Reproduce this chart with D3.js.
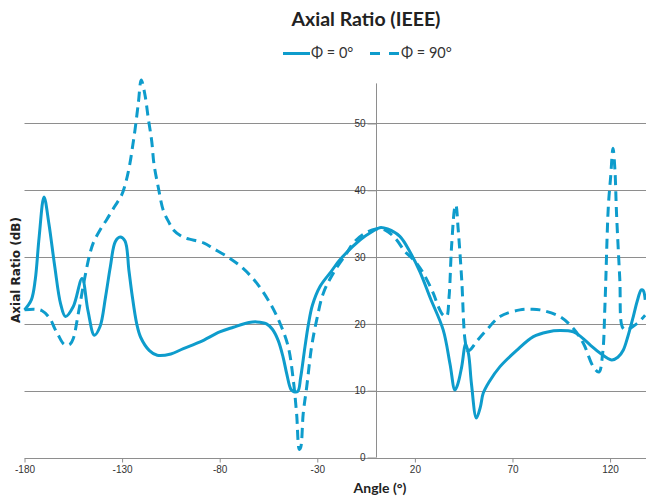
<!DOCTYPE html>
<html>
<head>
<meta charset="utf-8">
<script src="https://cdn.jsdelivr.net/npm/d3@7"></script>
<style>
  html, body { margin: 0; padding: 0; background: #fff; }
  svg { display: block; }
</style>
</head>
<body>
<svg id="chart" width="646" height="499"></svg>
<script>
// ---- data ----
const title = "Axial Ratio (IEEE)";
const xLabel = "Angle (°)";
const yLabel = "Axial Ratio (dB)";
const seriesNames = ["Φ = 0°", "Φ = 90°"];
const xTicks = [-180, -130, -80, -30, 20, 70, 120];
const yTicks = [0, 10, 20, 30, 40, 50];

const phi0Angles = [-180,-176.5,-174.5,-172.5,-170,-167.5,-164.5,-161.5,-159,-155,-150.5,-147.5,-144.2,-141.3,-138.5,-136,-133.5,-131,-128.5,-126.5,-125,-122.5,-120.5,-116,-112,-105,-98.6,-90,-80,-73,-65,-61,-56,-53,-50,-47.5,-45.7,-43.5,-42,-40,-38.5,-36.3,-34.5,-32.5,-28.6,-23,-18.4,-8,-2,2,6,12.3,18,22.6,28,34.5,38,40.5,42,44,46,47.5,49,51.5,53.5,55,58,63.6,72,80.7,88,94.3,101.2,105,110,115,120.8,124,126.8,129,131.9,134,136,137,138];
const phi0Values = [22.1,23.6,26.6,33,39.0,35,28.6,23,21.1,22.6,26.8,22,18.3,19.6,24,28.6,32.3,33.0,32.4,28,24.6,20,18,16,15.3,15.5,16.3,17.3,18.8,19.5,20.2,20.3,20,19.2,17.5,15,12.6,10.2,9.85,9.9,12,16.6,20,22.8,25.6,27.8,29.6,32.6,33.8,34.4,34.2,33.1,30.5,27.8,23.8,19.1,14,10.1,11,13.6,17.0,15.5,11,5.9,7.5,9.6,11.3,13.6,16,18.1,18.8,19.0,18.8,18.1,16.8,15.6,14.6,15,16.1,18,21.1,23.5,25.1,25,23.6];

const phi90Angles = [-180,-175,-171.2,-167,-164.5,-162.7,-160,-158.4,-156.5,-155,-152.4,-149,-146.5,-144.8,-141,-137.9,-134,-130.2,-128,-126,-124.5,-123.4,-121.7,-120.2,-118.3,-116.6,-114.8,-113.7,-111.5,-108.9,-106,-103.8,-100,-96.9,-88,-83.3,-74.7,-68,-61,-54.2,-49.1,-44.9,-42.3,-40.6,-39.2,-38.5,-37.2,-35.4,-32.9,-30.3,-26.9,-21.8,-14.9,-11.6,-6,0,5,10,15,20,24.3,29.4,32,34.5,36.2,37.5,38.8,40.5,41,42.2,44,45.7,47,48.2,52,56.8,63.6,73.8,80,84.1,94.3,101.2,106.3,111.4,114.3,116.2,117.4,119.1,120.3,121.5,122.5,123.3,125,126.2,128,134,138];
const phi90Values = [22.1,22.2,22.0,20.8,19.3,18.3,17,16.8,17,17.8,21.6,27.1,30.5,32.1,34.2,35.6,37.5,39.3,41.3,44.0,46.8,49.0,53,56.5,54.3,50.8,47.3,44,40.5,37.0,35.2,34.1,33.2,32.8,32.1,31.3,29.8,28.3,26.1,23.1,20.1,16.6,11.6,6.6,1.2,1.5,6.6,10.6,16.6,20.6,24.6,27.6,30.6,32.1,33.5,34.2,34.0,32.8,30.8,29.4,27.6,24.6,22.6,21.3,21.1,24,31.6,37.5,37.8,34.1,26.6,17.6,16,16.1,17.5,19.1,21.1,22.1,22.2,22.1,21.1,19.3,17.1,13.6,12.8,15.6,23,37.5,42,46.3,43,36.6,26.6,19.6,19.1,20.1,21.3];

// ---- layout ----
const svg = d3.select("#chart");
const color = "#0e9ccc";
const gridColor = "#8e8e8e";
const textColor = "#333";
const font = "Lato, 'Open Sans', sans-serif";
const tickFont = "'Liberation Sans Narrow', 'Liberation Sans', sans-serif";

const x = d3.scaleLinear().domain([-180, 138]).range([24.5, 645.2]);
const y = d3.scaleLinear().domain([0, 56]).range([457.5, 83.4]);

// gridlines
svg.append("g").selectAll("line")
  .data(yTicks.filter(d => d > 0))
  .join("line")
  .attr("x1", x(-180)).attr("x2", 646)
  .attr("y1", d => Math.round(y(d)) + 0.5).attr("y2", d => Math.round(y(d)) + 0.5)
  .attr("stroke", gridColor).attr("stroke-width", 1);

// x axis (at y = 0)
const xAxis = d3.axisBottom(x).tickValues(xTicks).tickFormat(d => String(d))
  .tickSize(4).tickSizeOuter(0).tickPadding(3);
const gx = svg.append("g").attr("transform", `translate(0,${Math.round(y(0)) + 0.5})`).call(xAxis);
gx.select(".domain").attr("stroke", gridColor).attr("d", `M${x(-180)},0H646`);
gx.selectAll(".tick line").attr("stroke", gridColor);
gx.selectAll("text").attr("font-family", tickFont).attr("font-size", 10).attr("fill", textColor);

// y axis (at x = 0)
const yAxis = d3.axisLeft(y).tickValues(yTicks).tickFormat(d => String(d))
  .tickSize(9).tickSizeOuter(0).tickPadding(2);
const gy = svg.append("g").attr("transform", `translate(${Math.round(x(0)) + 0.5},0)`).call(yAxis);
gy.select(".domain").attr("stroke", gridColor).attr("d", `M0,${y(0)}V${y(56)}`);
gy.selectAll(".tick line").attr("stroke", gridColor);
gy.selectAll("text").attr("font-family", tickFont).attr("font-size", 10).attr("fill", textColor);

// lines
const line = d3.line().x(d => x(d[0])).y(d => y(d[1])).curve(d3.curveCatmullRom.alpha(0.5));
const phi0 = phi0Angles.map((a, i) => [a, phi0Values[i]]);
const phi90 = phi90Angles.map((a, i) => [a, phi90Values[i]]);

svg.append("path").datum(phi90).attr("d", line)
  .attr("fill", "none").attr("stroke", color).attr("stroke-width", 3)
  .attr("stroke-dasharray", "10,6");
svg.append("path").datum(phi0).attr("d", line)
  .attr("fill", "none").attr("stroke", color).attr("stroke-width", 3);

// title
svg.append("text").attr("x", 366).attr("y", 26).attr("text-anchor", "middle")
  .attr("font-family", font).attr("font-weight", "bold").attr("font-size", 19.5)
  .attr("fill", "#222").text(title);

// legend
const leg = svg.append("g").attr("font-family", font).attr("font-size", 14.5).attr("fill", textColor);
leg.append("line").attr("x1", 283).attr("x2", 310).attr("y1", 53.5).attr("y2", 53.5)
  .attr("stroke", color).attr("stroke-width", 3);
leg.append("text").attr("x", 311).attr("y", 58).text(seriesNames[0]);
leg.append("line").attr("x1", 370).attr("x2", 400).attr("y1", 53.5).attr("y2", 53.5)
  .attr("stroke", color).attr("stroke-width", 3).attr("stroke-dasharray", "10,9");
leg.append("text").attr("x", 401).attr("y", 58).text(seriesNames[1]);

// axis titles
svg.append("text").attr("x", 380).attr("y", 493).attr("text-anchor", "middle")
  .attr("font-family", font).attr("font-weight", "bold").attr("font-size", 14)
  .attr("fill", "#222").text(xLabel);
svg.append("text").attr("transform", "translate(20,270) rotate(-90)").attr("text-anchor", "middle")
  .attr("font-family", "'DejaVu Sans', sans-serif").attr("font-weight", "bold").attr("font-size", 12)
  .attr("fill", "#222").text(yLabel);
</script>
</body>
</html>
